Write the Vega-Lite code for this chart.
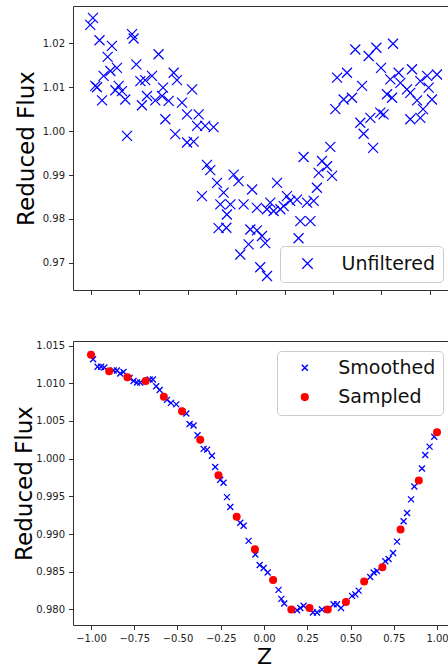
{
  "$schema": "https://vega.github.io/schema/vega-lite/v6.json",
  "padding": {"left": 12, "top": 5, "right": 0, "bottom": 0},
  "bounds": "flush",
  "spacing": 51,
  "config": {
    "font": "DejaVu Sans",
    "view": {"stroke": "#333333", "strokeWidth": 1},
    "axis": {"grid": false, "domain": false, "tickColor": "#333333", "tickSize": 4.5, "tickWidth": 1, "labelFont": "DejaVu Sans", "labelFontSize": 10, "labelColor": "#222222", "labelPadding": 4, "titleFont": "DejaVu Sans", "titleFontSize": 23, "titleFontWeight": "normal", "titleColor": "#000000"},
    "legend": {"labelFont": "DejaVu Sans", "labelFontSize": 19, "labelColor": "#111111", "strokeColor": "#cccccc", "fillColor": "rgba(255,255,255,0.85)", "cornerRadius": 4}
  },
  "datasets": {
    "unfiltered": [
      {"z": -0.990, "flux": 1.0258, "kind": "Unfiltered"},
      {"z": -1.004, "flux": 1.0242, "kind": "Unfiltered"},
      {"z": -0.956, "flux": 1.0207, "kind": "Unfiltered"},
      {"z": -0.892, "flux": 1.0194, "kind": "Unfiltered"},
      {"z": -0.788, "flux": 1.0221, "kind": "Unfiltered"},
      {"z": -0.780, "flux": 1.0211, "kind": "Unfiltered"},
      {"z": -0.914, "flux": 1.0169, "kind": "Unfiltered"},
      {"z": -0.651, "flux": 1.0175, "kind": "Unfiltered"},
      {"z": -0.866, "flux": 1.0144, "kind": "Unfiltered"},
      {"z": -0.900, "flux": 1.0137, "kind": "Unfiltered"},
      {"z": -0.935, "flux": 1.0126, "kind": "Unfiltered"},
      {"z": -0.766, "flux": 1.0152, "kind": "Unfiltered"},
      {"z": -0.978, "flux": 1.0103, "kind": "Unfiltered"},
      {"z": -0.969, "flux": 1.0100, "kind": "Unfiltered"},
      {"z": -0.943, "flux": 1.0070, "kind": "Unfiltered"},
      {"z": -0.857, "flux": 1.0103, "kind": "Unfiltered"},
      {"z": -0.874, "flux": 1.0093, "kind": "Unfiltered"},
      {"z": -0.840, "flux": 1.0091, "kind": "Unfiltered"},
      {"z": -0.823, "flux": 1.0072, "kind": "Unfiltered"},
      {"z": -0.745, "flux": 1.0114, "kind": "Unfiltered"},
      {"z": -0.720, "flux": 1.0116, "kind": "Unfiltered"},
      {"z": -0.685, "flux": 1.0126, "kind": "Unfiltered"},
      {"z": -0.628, "flux": 1.0099, "kind": "Unfiltered"},
      {"z": -0.711, "flux": 1.0080, "kind": "Unfiltered"},
      {"z": -0.737, "flux": 1.0059, "kind": "Unfiltered"},
      {"z": -0.668, "flux": 1.0070, "kind": "Unfiltered"},
      {"z": -0.633, "flux": 1.0080, "kind": "Unfiltered"},
      {"z": -0.599, "flux": 1.0069, "kind": "Unfiltered"},
      {"z": -0.573, "flux": 1.0133, "kind": "Unfiltered"},
      {"z": -0.556, "flux": 1.0116, "kind": "Unfiltered"},
      {"z": -0.530, "flux": 1.0065, "kind": "Unfiltered"},
      {"z": -0.478, "flux": 1.0095, "kind": "Unfiltered"},
      {"z": -0.504, "flux": 1.0038, "kind": "Unfiltered"},
      {"z": -0.444, "flux": 1.0038, "kind": "Unfiltered"},
      {"z": -0.452, "flux": 1.0012, "kind": "Unfiltered"},
      {"z": -0.410, "flux": 1.0012, "kind": "Unfiltered"},
      {"z": -0.367, "flux": 1.0009, "kind": "Unfiltered"},
      {"z": -0.616, "flux": 1.0027, "kind": "Unfiltered"},
      {"z": -0.814, "flux": 0.9989, "kind": "Unfiltered"},
      {"z": -0.565, "flux": 0.9993, "kind": "Unfiltered"},
      {"z": -0.504, "flux": 0.9974, "kind": "Unfiltered"},
      {"z": -0.470, "flux": 0.9976, "kind": "Unfiltered"},
      {"z": 0.365, "flux": 1.0186, "kind": "Unfiltered"},
      {"z": 0.474, "flux": 1.0190, "kind": "Unfiltered"},
      {"z": 0.560, "flux": 1.0199, "kind": "Unfiltered"},
      {"z": 0.434, "flux": 1.0171, "kind": "Unfiltered"},
      {"z": 0.498, "flux": 1.0144, "kind": "Unfiltered"},
      {"z": 0.271, "flux": 1.0122, "kind": "Unfiltered"},
      {"z": 0.322, "flux": 1.0133, "kind": "Unfiltered"},
      {"z": 0.400, "flux": 1.0103, "kind": "Unfiltered"},
      {"z": 0.546, "flux": 1.0118, "kind": "Unfiltered"},
      {"z": 0.589, "flux": 1.0133, "kind": "Unfiltered"},
      {"z": 0.658, "flux": 1.0141, "kind": "Unfiltered"},
      {"z": 0.736, "flux": 1.0126, "kind": "Unfiltered"},
      {"z": 0.787, "flux": 1.0129, "kind": "Unfiltered"},
      {"z": 0.598, "flux": 1.0110, "kind": "Unfiltered"},
      {"z": 0.632, "flux": 1.0095, "kind": "Unfiltered"},
      {"z": 0.701, "flux": 1.0114, "kind": "Unfiltered"},
      {"z": 0.744, "flux": 1.0099, "kind": "Unfiltered"},
      {"z": 0.529, "flux": 1.0084, "kind": "Unfiltered"},
      {"z": 0.555, "flux": 1.0076, "kind": "Unfiltered"},
      {"z": 0.649, "flux": 1.0087, "kind": "Unfiltered"},
      {"z": 0.684, "flux": 1.0070, "kind": "Unfiltered"},
      {"z": 0.761, "flux": 1.0072, "kind": "Unfiltered"},
      {"z": 0.305, "flux": 1.0072, "kind": "Unfiltered"},
      {"z": 0.348, "flux": 1.0076, "kind": "Unfiltered"},
      {"z": 0.262, "flux": 1.0050, "kind": "Unfiltered"},
      {"z": 0.391, "flux": 1.0019, "kind": "Unfiltered"},
      {"z": 0.443, "flux": 1.0030, "kind": "Unfiltered"},
      {"z": 0.494, "flux": 1.0042, "kind": "Unfiltered"},
      {"z": 0.511, "flux": 1.0038, "kind": "Unfiltered"},
      {"z": 0.649, "flux": 1.0027, "kind": "Unfiltered"},
      {"z": 0.701, "flux": 1.0030, "kind": "Unfiltered"},
      {"z": 0.715, "flux": 1.0050, "kind": "Unfiltered"},
      {"z": 0.408, "flux": 0.9994, "kind": "Unfiltered"},
      {"z": 0.236, "flux": 0.9964, "kind": "Unfiltered"},
      {"z": 0.457, "flux": 0.9962, "kind": "Unfiltered"},
      {"z": 0.098, "flux": 0.9941, "kind": "Unfiltered"},
      {"z": 0.193, "flux": 0.9932, "kind": "Unfiltered"},
      {"z": 0.219, "flux": 0.9920, "kind": "Unfiltered"},
      {"z": 0.176, "flux": 0.9905, "kind": "Unfiltered"},
      {"z": 0.245, "flux": 0.9898, "kind": "Unfiltered"},
      {"z": -0.401, "flux": 0.9923, "kind": "Unfiltered"},
      {"z": -0.384, "flux": 0.9911, "kind": "Unfiltered"},
      {"z": -0.427, "flux": 0.9852, "kind": "Unfiltered"},
      {"z": -0.349, "flux": 0.9882, "kind": "Unfiltered"},
      {"z": -0.315, "flux": 0.9860, "kind": "Unfiltered"},
      {"z": -0.263, "flux": 0.9901, "kind": "Unfiltered"},
      {"z": -0.238, "flux": 0.9886, "kind": "Unfiltered"},
      {"z": -0.168, "flux": 0.9867, "kind": "Unfiltered"},
      {"z": -0.039, "flux": 0.9882, "kind": "Unfiltered"},
      {"z": 0.167, "flux": 0.9871, "kind": "Unfiltered"},
      {"z": -0.332, "flux": 0.9833, "kind": "Unfiltered"},
      {"z": -0.280, "flux": 0.9833, "kind": "Unfiltered"},
      {"z": -0.298, "flux": 0.9810, "kind": "Unfiltered"},
      {"z": -0.212, "flux": 0.9833, "kind": "Unfiltered"},
      {"z": -0.143, "flux": 0.9825, "kind": "Unfiltered"},
      {"z": -0.074, "flux": 0.9837, "kind": "Unfiltered"},
      {"z": -0.057, "flux": 0.9818, "kind": "Unfiltered"},
      {"z": -0.022, "flux": 0.9822, "kind": "Unfiltered"},
      {"z": 0.012, "flux": 0.9852, "kind": "Unfiltered"},
      {"z": 0.029, "flux": 0.9841, "kind": "Unfiltered"},
      {"z": 0.064, "flux": 0.9844, "kind": "Unfiltered"},
      {"z": 0.116, "flux": 0.9837, "kind": "Unfiltered"},
      {"z": 0.150, "flux": 0.9841, "kind": "Unfiltered"},
      {"z": 0.081, "flux": 0.9795, "kind": "Unfiltered"},
      {"z": 0.133, "flux": 0.9795, "kind": "Unfiltered"},
      {"z": -0.341, "flux": 0.9779, "kind": "Unfiltered"},
      {"z": -0.301, "flux": 0.9780, "kind": "Unfiltered"},
      {"z": -0.177, "flux": 0.9776, "kind": "Unfiltered"},
      {"z": -0.143, "flux": 0.9774, "kind": "Unfiltered"},
      {"z": -0.117, "flux": 0.9761, "kind": "Unfiltered"},
      {"z": -0.100, "flux": 0.9745, "kind": "Unfiltered"},
      {"z": -0.186, "flux": 0.9742, "kind": "Unfiltered"},
      {"z": -0.229, "flux": 0.9719, "kind": "Unfiltered"},
      {"z": 0.072, "flux": 0.9756, "kind": "Unfiltered"},
      {"z": -0.126, "flux": 0.9690, "kind": "Unfiltered"},
      {"z": -0.091, "flux": 0.9670, "kind": "Unfiltered"},
      {"z": -0.091, "flux": 0.9822, "kind": "Unfiltered"},
      {"z": -0.005, "flux": 0.9829, "kind": "Unfiltered"}
    ],
    "processed": [
      {"z": -0.988, "flux": 1.0132, "series": "Smoothed"},
      {"z": -0.962, "flux": 1.0122, "series": "Smoothed"},
      {"z": -0.942, "flux": 1.0122, "series": "Smoothed"},
      {"z": -0.923, "flux": 1.0121, "series": "Smoothed"},
      {"z": -0.869, "flux": 1.0117, "series": "Smoothed"},
      {"z": -0.850, "flux": 1.0117, "series": "Smoothed"},
      {"z": -0.831, "flux": 1.0113, "series": "Smoothed"},
      {"z": -0.812, "flux": 1.0115, "series": "Smoothed"},
      {"z": -0.777, "flux": 1.0107, "series": "Smoothed"},
      {"z": -0.754, "flux": 1.0103, "series": "Smoothed"},
      {"z": -0.734, "flux": 1.0101, "series": "Smoothed"},
      {"z": -0.715, "flux": 1.0101, "series": "Smoothed"},
      {"z": -0.661, "flux": 1.0105, "series": "Smoothed"},
      {"z": -0.642, "flux": 1.0105, "series": "Smoothed"},
      {"z": -0.623, "flux": 1.0096, "series": "Smoothed"},
      {"z": -0.603, "flux": 1.0091, "series": "Smoothed"},
      {"z": -0.561, "flux": 1.0078, "series": "Smoothed"},
      {"z": -0.538, "flux": 1.0074, "series": "Smoothed"},
      {"z": -0.507, "flux": 1.0072, "series": "Smoothed"},
      {"z": -0.449, "flux": 1.0060, "series": "Smoothed"},
      {"z": -0.430, "flux": 1.0046, "series": "Smoothed"},
      {"z": -0.407, "flux": 1.0044, "series": "Smoothed"},
      {"z": -0.384, "flux": 1.0031, "series": "Smoothed"},
      {"z": -0.349, "flux": 1.0013, "series": "Smoothed"},
      {"z": -0.329, "flux": 1.0012, "series": "Smoothed"},
      {"z": -0.301, "flux": 1.0004, "series": "Smoothed"},
      {"z": -0.282, "flux": 0.9989, "series": "Smoothed"},
      {"z": -0.253, "flux": 0.9972, "series": "Smoothed"},
      {"z": -0.234, "flux": 0.9968, "series": "Smoothed"},
      {"z": -0.214, "flux": 0.9949, "series": "Smoothed"},
      {"z": -0.195, "flux": 0.9936, "series": "Smoothed"},
      {"z": -0.137, "flux": 0.9915, "series": "Smoothed"},
      {"z": -0.118, "flux": 0.9911, "series": "Smoothed"},
      {"z": -0.089, "flux": 0.9891, "series": "Smoothed"},
      {"z": -0.050, "flux": 0.9873, "series": "Smoothed"},
      {"z": -0.025, "flux": 0.9859, "series": "Smoothed"},
      {"z": -0.002, "flux": 0.9855, "series": "Smoothed"},
      {"z": 0.021, "flux": 0.9849, "series": "Smoothed"},
      {"z": 0.084, "flux": 0.9826, "series": "Smoothed"},
      {"z": 0.100, "flux": 0.9814, "series": "Smoothed"},
      {"z": 0.117, "flux": 0.9808, "series": "Smoothed"},
      {"z": 0.191, "flux": 0.9799, "series": "Smoothed"},
      {"z": 0.210, "flux": 0.9802, "series": "Smoothed"},
      {"z": 0.229, "flux": 0.9805, "series": "Smoothed"},
      {"z": 0.283, "flux": 0.9796, "series": "Smoothed"},
      {"z": 0.306, "flux": 0.9796, "series": "Smoothed"},
      {"z": 0.335, "flux": 0.9800, "series": "Smoothed"},
      {"z": 0.402, "flux": 0.9807, "series": "Smoothed"},
      {"z": 0.422, "flux": 0.9807, "series": "Smoothed"},
      {"z": 0.445, "flux": 0.9802, "series": "Smoothed"},
      {"z": 0.509, "flux": 0.9818, "series": "Smoothed"},
      {"z": 0.528, "flux": 0.9820, "series": "Smoothed"},
      {"z": 0.547, "flux": 0.9825, "series": "Smoothed"},
      {"z": 0.614, "flux": 0.9843, "series": "Smoothed"},
      {"z": 0.634, "flux": 0.9849, "series": "Smoothed"},
      {"z": 0.653, "flux": 0.9851, "series": "Smoothed"},
      {"z": 0.701, "flux": 0.9864, "series": "Smoothed"},
      {"z": 0.720, "flux": 0.9867, "series": "Smoothed"},
      {"z": 0.746, "flux": 0.9875, "series": "Smoothed"},
      {"z": 0.769, "flux": 0.9890, "series": "Smoothed"},
      {"z": 0.807, "flux": 0.9917, "series": "Smoothed"},
      {"z": 0.827, "flux": 0.9928, "series": "Smoothed"},
      {"z": 0.850, "flux": 0.9946, "series": "Smoothed"},
      {"z": 0.869, "flux": 0.9963, "series": "Smoothed"},
      {"z": 0.913, "flux": 0.9987, "series": "Smoothed"},
      {"z": 0.932, "flux": 1.0005, "series": "Smoothed"},
      {"z": 0.957, "flux": 1.0016, "series": "Smoothed"},
      {"z": 0.984, "flux": 1.0029, "series": "Smoothed"},
      {"z": -1.0, "flux": 1.0138, "series": "Sampled"},
      {"z": -0.8947, "flux": 1.0116, "series": "Sampled"},
      {"z": -0.7895, "flux": 1.0108, "series": "Sampled"},
      {"z": -0.6842, "flux": 1.0103, "series": "Sampled"},
      {"z": -0.5789, "flux": 1.0082, "series": "Sampled"},
      {"z": -0.4737, "flux": 1.0063, "series": "Sampled"},
      {"z": -0.3684, "flux": 1.0025, "series": "Sampled"},
      {"z": -0.2632, "flux": 0.9978, "series": "Sampled"},
      {"z": -0.1579, "flux": 0.9923, "series": "Sampled"},
      {"z": -0.0526, "flux": 0.9880, "series": "Sampled"},
      {"z": 0.0526, "flux": 0.9839, "series": "Sampled"},
      {"z": 0.1579, "flux": 0.9800, "series": "Sampled"},
      {"z": 0.2632, "flux": 0.9802, "series": "Sampled"},
      {"z": 0.3684, "flux": 0.9800, "series": "Sampled"},
      {"z": 0.4737, "flux": 0.9810, "series": "Sampled"},
      {"z": 0.5789, "flux": 0.9837, "series": "Sampled"},
      {"z": 0.6842, "flux": 0.9856, "series": "Sampled"},
      {"z": 0.7895, "flux": 0.9906, "series": "Sampled"},
      {"z": 0.8947, "flux": 0.9971, "series": "Sampled"},
      {"z": 1.0, "flux": 1.0035, "series": "Sampled"}
    ]
  },
  "vconcat": [
    {
      "width": 382,
      "height": 284,
      "data": {"name": "unfiltered"},
      "mark": {"type": "point", "shape": "M-1,-1L1,1M-1,1L1,-1", "filled": false, "size": 100, "strokeWidth": 1.2, "opacity": 1},
      "encoding": {
        "x": {"field": "z", "type": "quantitative", "scale": {"domain": [-1.093, 0.880], "nice": false, "zero": false}, "axis": {"values": [-1, -0.75, -0.5, -0.25, 0, 0.25, 0.5, 0.75], "labels": false, "title": null}},
        "y": {"field": "flux", "type": "quantitative", "scale": {"domain": [0.96381, 1.0285], "nice": false, "zero": false}, "axis": {"values": [0.97, 0.98, 0.99, 1.0, 1.01, 1.02], "format": ".2f", "title": "Reduced Flux", "titleX": -40, "titleBaseline": "alphabetic"}},
        "color": {"field": "kind", "type": "nominal", "scale": {"domain": ["Unfiltered"], "range": ["#0000ff"]}, "legend": {"title": null, "orient": "none", "legendX": 207, "legendY": 240, "symbolType": "M-1,-1L1,1M-1,1L1,-1", "symbolSize": 110, "symbolStrokeWidth": 1.2, "symbolOpacity": 1, "padding": 8, "symbolOffset": 10, "labelOffset": 24.5}}
      }
    },
    {
      "width": 382,
      "height": 284,
      "data": {"name": "processed"},
      "mark": {"type": "point", "filled": true, "strokeWidth": 1.3, "opacity": 1},
      "encoding": {
        "x": {"field": "z", "type": "quantitative", "scale": {"domain": [-1.104, 1.104], "nice": false, "zero": false}, "axis": {"values": [-1, -0.75, -0.5, -0.25, 0, 0.25, 0.5, 0.75, 1], "format": ".2f", "title": "Z", "titleY": 38.5, "titleFontSize": 22, "titleBaseline": "alphabetic"}},
        "y": {"field": "flux", "type": "quantitative", "scale": {"domain": [0.97794, 1.01561], "nice": false, "zero": false}, "axis": {"values": [0.98, 0.985, 0.99, 0.995, 1.0, 1.005, 1.01, 1.015], "format": ".3f", "title": "Reduced Flux", "titleX": -42, "titleBaseline": "alphabetic"}},
        "shape": {"field": "series", "type": "nominal", "scale": {"domain": ["Smoothed", "Sampled"], "range": ["M-1,-1L1,1M-1,1L1,-1", "circle"]}, "legend": {"title": null, "orient": "none", "legendX": 204, "legendY": 10, "padding": 7.3, "symbolOffset": 11, "labelOffset": 24, "rowPadding": 9.3, "symbolOpacity": 1}},
        "fill": {"field": "series", "type": "nominal", "scale": {"domain": ["Smoothed", "Sampled"], "range": ["#0000ff", "#ff0000"]}, "legend": {"title": null, "orient": "none", "legendX": 204, "legendY": 10, "padding": 7.3, "symbolOffset": 11, "labelOffset": 24, "rowPadding": 9.3, "symbolOpacity": 1}},
        "stroke": {"field": "series", "type": "nominal", "scale": {"domain": ["Smoothed", "Sampled"], "range": ["#0000ff", "#ff0000"]}, "legend": {"title": null, "orient": "none", "legendX": 204, "legendY": 10, "padding": 7.3, "symbolOffset": 11, "labelOffset": 24, "rowPadding": 9.3, "symbolOpacity": 1}},
        "size": {"field": "series", "type": "nominal", "scale": {"domain": ["Smoothed", "Sampled"], "range": [36, 45]}, "legend": {"title": null, "orient": "none", "legendX": 204, "legendY": 10, "padding": 7.3, "symbolOffset": 11, "labelOffset": 24, "rowPadding": 9.3, "symbolOpacity": 1}}
      }
    }
  ],
  "resolve": {
    "scale": {"x": "independent", "y": "independent", "color": "independent", "shape": "independent", "fill": "independent", "stroke": "independent", "size": "independent"},
    "legend": {"color": "independent", "shape": "independent", "fill": "independent", "stroke": "independent", "size": "independent"}
  }
}
